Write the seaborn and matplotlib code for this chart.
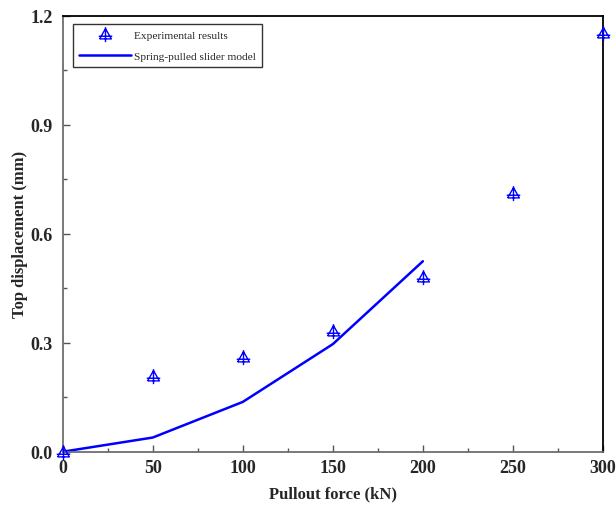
import numpy as np
import pandas as pd
import matplotlib
matplotlib.use("Agg")
import matplotlib.pyplot as plt
from matplotlib.path import Path
from matplotlib.ticker import MultipleLocator, FormatStrFormatter
import seaborn as sns

# Pullout test data
exp_force = [0, 50, 100, 150, 200, 250, 300]
exp_disp = [0.0, 0.209, 0.26, 0.331, 0.482, 0.711, 1.152]

model_force = [0, 50, 100, 150, 200]
model_disp = [0.0, 0.039, 0.137, 0.296, 0.524]

x_ticks = [0, 50, 100, 150, 200, 250, 300]
y_ticks = [0.0, 0.3, 0.6, 0.9, 1.2]

sns.set_style("white")
plt.rcParams["font.family"] = ["Liberation Serif", "DejaVu Serif"]

# open triangle with a cross through it
verts = [(-1.0, -0.75), (1.0, -0.75), (0.0, 1.0), (-1.0, -0.75),
         (0.0, -1.3), (0.0, 1.25),
         (-1.15, -0.3), (1.15, -0.3)]
codes = [Path.MOVETO, Path.LINETO, Path.LINETO, Path.LINETO,
         Path.MOVETO, Path.LINETO,
         Path.MOVETO, Path.LINETO]
tri_cross = Path(verts, codes)

fig = plt.figure(figsize=(6.16, 5.06), dpi=100)
ax = fig.add_axes([0.1018, 0.1053, 0.877, 0.862])

exp_df = pd.DataFrame({"force": exp_force, "disp": exp_disp})
model_df = pd.DataFrame({"force": model_force, "disp": model_disp})

sns.lineplot(data=model_df, x="force", y="disp", ax=ax, color="#0000ff",
             linewidth=1.8, label="Spring-pulled slider model", zorder=2)
ax.plot(exp_force, exp_disp, linestyle="none", marker=tri_cross,
        markersize=11, markerfacecolor="none", markeredgecolor="#0000ff",
        markeredgewidth=1.0, label="Experimental results", zorder=3,
        clip_on=False)

ax.set_xlim(0, 300)
ax.set_ylim(0, 1.2)
ax.set_xticks(x_ticks)
ax.set_yticks(y_ticks)
ax.xaxis.set_minor_locator(MultipleLocator(25))
ax.yaxis.set_minor_locator(MultipleLocator(0.15))
ax.yaxis.set_major_formatter(FormatStrFormatter("%.1f"))

ax.tick_params(axis="both", which="both", bottom=True, left=True,
               top=False, right=False)
ax.tick_params(axis="both", which="major", direction="in", length=5,
               width=1.0, color="#555555", labelsize=13)
ax.tick_params(axis="x", which="major", pad=5)
ax.tick_params(axis="y", which="major", pad=7)
ax.tick_params(axis="both", which="minor", direction="in", length=3,
               width=1.0, color="#555555")
for lab in ax.get_xticklabels() + ax.get_yticklabels():
    lab.set_fontweight("bold")

for side in ["left", "bottom"]:
    ax.spines[side].set_color("#6e6e6e")
    ax.spines[side].set_linewidth(1.3)
for side in ["top", "right"]:
    ax.spines[side].set_color("black")
    ax.spines[side].set_linewidth(1.3)

ax.set_xlabel("Pullout force (kN)", fontsize=12, fontweight="bold")
ax.set_ylabel("Top displacement (mm)", fontsize=12, fontweight="bold")
ax.xaxis.set_label_coords(0.5, -0.078)
ax.yaxis.set_label_coords(-0.064, 0.5)

handles, labels = ax.get_legend_handles_labels()
order = [labels.index("Experimental results"), labels.index("Spring-pulled slider model")]
leg = ax.legend([handles[i] for i in order], [labels[i] for i in order],
                loc="upper left", bbox_to_anchor=(0.019, 0.9805), fontsize=8.2,
                frameon=True, fancybox=False, edgecolor="black",
                handlelength=4.6, labelspacing=1.0, borderpad=0.5,
                handletextpad=0.3, borderaxespad=0)
leg.get_frame().set_linewidth(1.0)

fig.savefig("out.png", dpi=100)
